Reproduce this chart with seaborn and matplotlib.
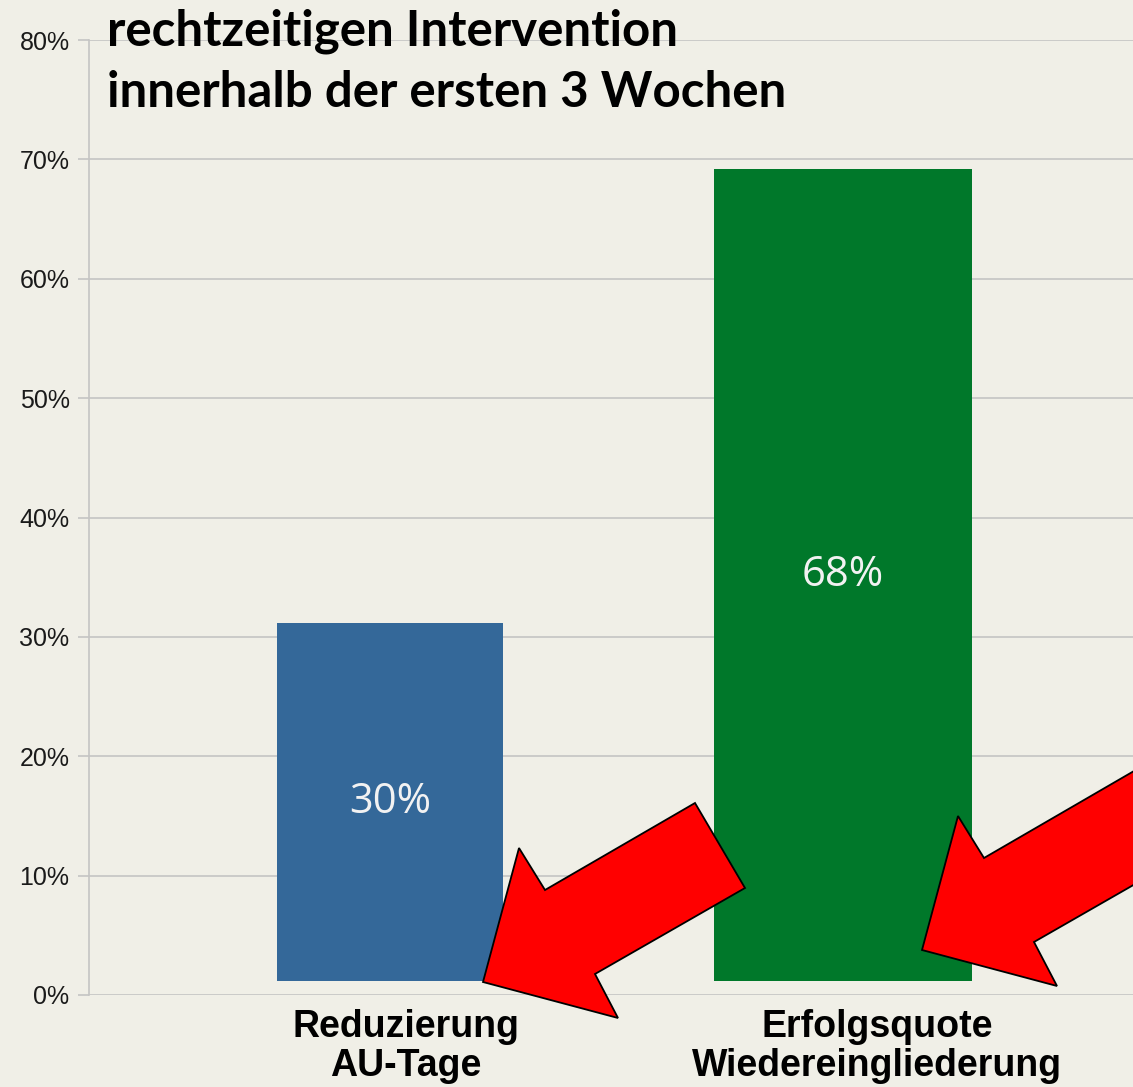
import numpy as np
import pandas as pd
import matplotlib
matplotlib.use("Agg")
import matplotlib.pyplot as plt
import matplotlib.transforms as mtransforms
from matplotlib.patches import Polygon
import seaborn as sns

# data
categories = ["Reduzierung\nAU-Tage", "Erfolgsquote\nWiedereingliederung"]
values = [30, 68]
value_labels = ["30%", "68%"]
y_ticks = [0, 10, 20, 30, 40, 50, 60, 70, 80]
title_lines = ["rechtzeitigen Intervention", "innerhalb der ersten 3 Wochen"]

BG = "#f0efe7"
BAR_COLORS = ["#346899", "#00782a"]
W, H = 1133, 1087


def px(x, y):
    # figure pixel (from top-left) -> figure fraction
    return x / W, 1 - y / H


def draw_arrow(fig, dx, dy):
    # block arrow pointing down-left, outline in pixels
    shape = [(483, 982), (519, 848), (545, 890), (695, 803),
             (745, 888), (595, 974), (618, 1018)]
    pts = [px(x + dx, y + dy) for x, y in shape]
    fig.patches.append(Polygon(pts, closed=True, transform=fig.transFigure,
                               facecolor="#ff0000", edgecolor="black",
                               linewidth=1.3, zorder=10))


def main():
    sns.set_theme(style="whitegrid")
    fig = plt.figure(figsize=(W / 100, H / 100), dpi=100, facecolor=BG)
    x0, y0 = px(89, 995)
    _, y1 = px(89, 40)
    ax = fig.add_axes([x0, y0, 1 - x0, y1 - y0])
    ax.set_facecolor(BG)

    df = pd.DataFrame({"cat": categories, "val": values})
    sns.barplot(data=df, x="cat", y="val", hue="cat", palette=BAR_COLORS,
                legend=False, width=0.53, bottom=1.2, saturation=1, ax=ax)

    # slightly different widths as in the original
    for p, w in zip(ax.patches, [0.50, 0.57]):
        c = p.get_x() + p.get_width() / 2
        p.set_width(w)
        p.set_x(c - w / 2)
        p.set_linewidth(0)

    for p, lab in zip(ax.patches, value_labels):
        ax.text(p.get_x() + p.get_width() / 2, p.get_y() + p.get_height() / 2,
                lab, ha="center", va="center", color="#f2f2f2",
                fontsize=30, family=["Open Sans", "DejaVu Sans"])

    ax.set_xlim(-0.664, 1.64)
    ax.set_ylim(0, 80)
    ax.set_yticks(y_ticks)
    ax.set_yticklabels([f"{t}%" for t in y_ticks],
                       family=["Liberation Sans", "DejaVu Sans"],
                       fontsize=18, color="#1a1a1a")
    ax.set_xlabel("")
    ax.set_ylabel("")
    ax.grid(axis="y", color="#c4c4c4", linewidth=1.2)
    ax.grid(axis="x", visible=False)
    ax.tick_params(axis="y", length=8, width=1.2, color="#c4c4c4", pad=6, left=True)
    ax.tick_params(axis="x", length=0, pad=10)
    for s in ["top", "right", "bottom"]:
        ax.spines[s].set_visible(False)
    ax.spines["left"].set_color("#c4c4c4")
    ax.spines["left"].set_linewidth(1.2)

    for lab, off in zip(ax.get_xticklabels(), [16, 34]):
        lab.set_fontsize(27)
        lab.set_fontweight("bold")
        lab.set_family(["Liberation Sans", "DejaVu Sans"])
        lab.set_color("black")
        lab.set_linespacing(1.1)
        lab.set_transform(lab.get_transform() +
                          mtransforms.ScaledTranslation(off / 100, 0, fig.dpi_scale_trans))

    for line, yb in zip(title_lines, [46, 107]):
        fx, fy = px(107, yb)
        fig.text(fx, fy, line, ha="left", va="baseline", fontsize=35.5,
                 fontweight="bold", family=["Lato", "Open Sans", "DejaVu Sans"],
                 color="black")

    draw_arrow(fig, 0, 0)
    draw_arrow(fig, 439, -32)

    fig.savefig("out.png", dpi=100, facecolor=BG)


if __name__ == "__main__":
    main()
